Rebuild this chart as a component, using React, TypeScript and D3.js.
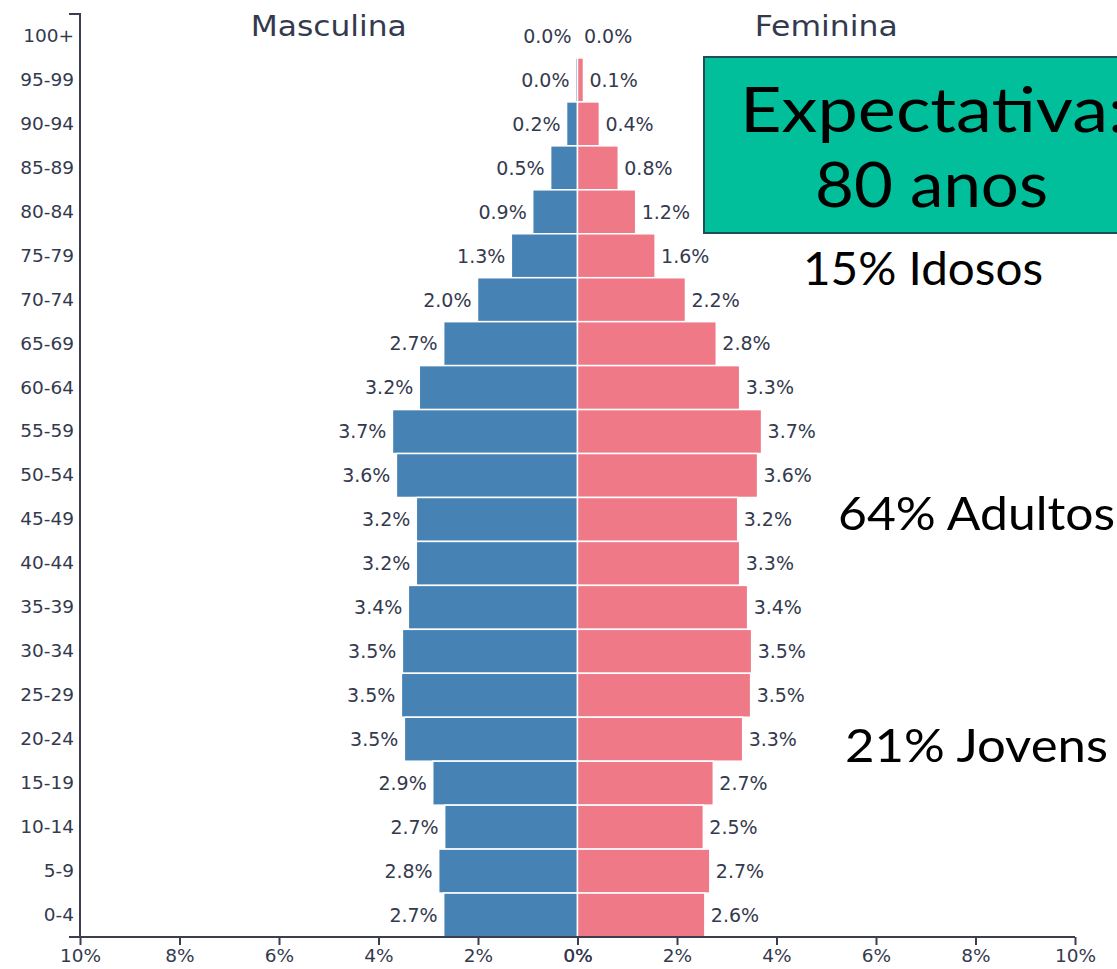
import * as d3 from 'd3'
import React, { useEffect, useRef } from 'react'

const ageGroups = [
  '100+', '95-99', '90-94', '85-89', '80-84', '75-79', '70-74', '65-69', '60-64', '55-59', '50-54',
  '45-49', '40-44', '35-39', '30-34', '25-29', '20-24', '15-19', '10-14', '5-9', '0-4',
]
const male = [
  0, 0.04, 0.22, 0.54, 0.9, 1.33, 2.01, 2.69, 3.18, 3.72, 3.64,
  3.24, 3.24, 3.4, 3.52, 3.54, 3.48, 2.91, 2.67, 2.79, 2.69,
]
const female = [
  0.01, 0.12, 0.44, 0.82, 1.17, 1.56, 2.17, 2.79, 3.26, 3.7, 3.62,
  3.22, 3.26, 3.42, 3.5, 3.48, 3.32, 2.73, 2.53, 2.66, 2.56,
]
const xTicks = [-10, -8, -6, -4, -2, 0, 2, 4, 6, 8, 10]
const notes = [
  { text: '15% Idosos', x: 803, y: 285, w: 240 },
  { text: '64% Adultos', x: 838, y: 530, w: 277 },
  { text: '21% Jovens', x: 845, y: 762, w: 263 },
]

const W = 1117
const H = 969
const ink = '#343a4e'
const axisInk = '#3a3e50'
const font = 'DejaVu Sans, sans-serif'
const gothic = 'Lato, "Noto Sans", sans-serif'

export default function App() {
  const svgRef = useRef<SVGSVGElement | null>(null)

  useEffect(() => {
    const svg = d3.select(svgRef.current)
    svg.selectAll('*').remove()

    const x = d3.scaleLinear().domain([-10, 10]).range([80, 1075])
    const y = d3.scaleBand().domain(ageGroups).range([14, 937]).padding(0)

    const rows = ageGroups.map((g, i) => ({ g, m: male[i], f: female[i] }))

    // bars
    const bars = svg.append('g')
    bars
      .selectAll('rect.m')
      .data(rows)
      .enter()
      .append('rect')
      .attr('x', (d) => x(-d.m))
      .attr('y', (d) => y(d.g)!)
      .attr('width', (d) => x(0) - x(-d.m))
      .attr('height', y.bandwidth())
      .attr('fill', '#4682b4')
      .attr('stroke', '#fff')
      .attr('stroke-width', 1.5)
    bars
      .selectAll('rect.f')
      .data(rows)
      .enter()
      .append('rect')
      .attr('x', x(0))
      .attr('y', (d) => y(d.g)!)
      .attr('width', (d) => x(d.f) - x(0))
      .attr('height', y.bandwidth())
      .attr('fill', '#ef7986')
      .attr('stroke', '#fff')
      .attr('stroke-width', 1.5)

    // value labels
    const labels = svg.append('g').attr('font-family', font).attr('font-size', 19).attr('fill', ink)
    labels
      .selectAll('text.m')
      .data(rows)
      .enter()
      .append('text')
      .attr('x', (d) => x(-d.m) - 6)
      .attr('y', (d) => y(d.g)! + y.bandwidth() / 2)
      .attr('dy', '0.36em')
      .attr('text-anchor', 'end')
      .text((d) => d.m.toFixed(1) + '%')
    labels
      .selectAll('text.f')
      .data(rows)
      .enter()
      .append('text')
      .attr('x', (d) => x(d.f) + 6)
      .attr('y', (d) => y(d.g)! + y.bandwidth() / 2)
      .attr('dy', '0.36em')
      .text((d) => d.f.toFixed(1) + '%')

    // left axis
    const left = svg.append('g').attr('transform', `translate(${x(-10)},0)`)
    left.call(d3.axisLeft(y).tickSize(0).tickPadding(6).tickSizeOuter(11))
    left.selectAll('text').attr('font-family', font).attr('font-size', 18.5).attr('fill', ink)
    left.selectAll('path').attr('stroke', axisInk).attr('stroke-width', 2)
    left.select('.domain').attr('d', `M-11,14H0V937`)

    // bottom axis
    const bottom = svg.append('g').attr('transform', `translate(0,937)`)
    bottom.call(
      d3
        .axisBottom(x)
        .tickValues(xTicks)
        .tickSize(8)
        .tickPadding(4)
        .tickFormat((d) => Math.abs(+d) + '%')
    )
    bottom.select('.domain').attr('d', `M69,0H${x(10)}`)
    bottom.selectAll('path,line').attr('stroke', axisInk).attr('stroke-width', 2)
    bottom.selectAll('text').attr('font-family', font).attr('font-size', 18.5).attr('fill', ink)
    // the 0% label is drawn by both halves in the original
    bottom
      .append('text')
      .attr('x', x(0) + 0.6)
      .attr('y', 12)
      .attr('dy', '0.71em')
      .attr('text-anchor', 'middle')
      .attr('font-family', font)
      .attr('font-size', 18.5)
      .attr('fill', ink)
      .text('0%')

    // side titles
    const titles = [
      { text: 'Masculina', at: -5, w: 156 },
      { text: 'Feminina', at: 5, w: 143 },
    ]
    svg
      .append('g')
      .selectAll('text')
      .data(titles)
      .enter()
      .append('text')
      .attr('x', (d) => x(d.at) - d.w / 2)
      .attr('y', 36)
      .attr('font-family', font)
      .attr('font-size', 28)
      .attr('fill', ink)
      .attr('textLength', (d) => d.w)
      .attr('lengthAdjust', 'spacingAndGlyphs')
      .text((d) => d.text)

    // life expectancy box
    svg
      .append('rect')
      .attr('x', 704)
      .attr('y', 57)
      .attr('width', 430)
      .attr('height', 176)
      .attr('fill', '#00bf9a')
      .attr('stroke', '#1d4e5c')
      .attr('stroke-width', 2)
    svg
      .append('text')
      .attr('x', 740)
      .attr('y', 132)
      .attr('font-family', gothic)
      .attr('font-size', 62)
      .attr('fill', '#000')
      .attr('textLength', 386)
      .attr('lengthAdjust', 'spacingAndGlyphs')
      .text('Expectativa:')
    svg
      .append('text')
      .attr('x', 815)
      .attr('y', 207)
      .attr('font-family', gothic)
      .attr('font-size', 62)
      .attr('fill', '#000')
      .attr('textLength', 233)
      .attr('lengthAdjust', 'spacingAndGlyphs')
      .text('80 anos')

    svg
      .append('g')
      .selectAll('text')
      .data(notes)
      .enter()
      .append('text')
      .attr('x', (d) => d.x)
      .attr('y', (d) => d.y)
      .attr('font-family', gothic)
      .attr('font-size', 47)
      .attr('fill', '#000')
      .attr('textLength', (d) => d.w)
      .attr('lengthAdjust', 'spacingAndGlyphs')
      .text((d) => d.text)
  }, [])

  return (
    <svg
      ref={svgRef}
      width={W}
      height={H}
      style={{ position: 'absolute', left: 0, top: 0, background: '#fff', display: 'block' }}
    ></svg>
  )
}
